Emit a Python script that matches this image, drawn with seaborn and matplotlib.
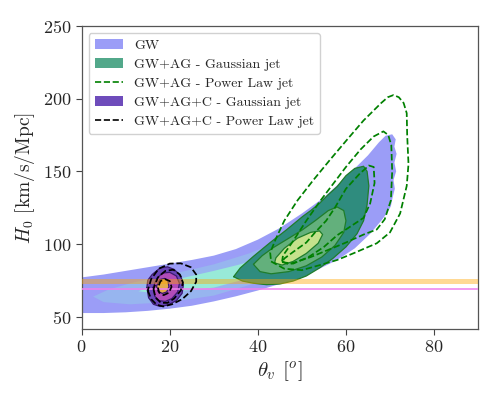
import numpy as np
import pandas as pd
import matplotlib
matplotlib.use("Agg")
import matplotlib.pyplot as plt
import seaborn as sns
from matplotlib.patches import Patch
from matplotlib.lines import Line2D

sns.set_theme(context="notebook", style="ticks")
plt.rcParams["font.family"] = ["cmr10", "DejaVu Serif"]
plt.rcParams["mathtext.fontset"] = "cm"
plt.rcParams["axes.formatter.use_mathtext"] = True

# contour outlines: (theta_v [deg], H0 [km/s/Mpc])
gw_outer = [(-3, 77), (0, 77), (5, 79), (10, 81.5), (15, 84), (20, 86.5), (25, 89),
            (30, 92), (35, 96.5), (40, 103), (45, 111), (50, 121), (55, 132),
            (60, 146), (65, 161), (67.5, 170), (69, 174.5), (70.5, 175.5),
            (71.3, 172), (71.0, 167), (71.5, 162), (71.0, 156), (71.4, 150),
            (70.8, 144), (71.1, 138), (70.6, 132), (70.2, 126), (69.5, 122),
            (68, 116), (65.5, 107), (62, 97), (58, 89), (54, 83), (50, 78),
            (45, 72.5), (40, 68), (35, 64), (30, 60.5), (25, 57.5), (20, 55.5),
            (15, 54), (10, 53), (5, 52.5), (0, 52.5), (-3, 52.5)]
gw_mid = [(2.6, 63.8), (6, 68.5), (11, 73), (20, 79), (30, 86), (38, 93.5),
          (45, 102), (52, 113), (57, 124), (61, 135), (63, 137), (64, 125),
          (62, 110), (58, 99), (53, 90), (47, 81), (40, 73.5), (30, 64.5),
          (20, 60), (11, 58.5), (5, 60)]
gw_inner = [(12.9, 67.5), (16, 71), (22, 76), (30, 81.5), (36, 86), (42, 92),
            (48, 100), (52, 106), (53, 103), (50, 94), (45, 85), (38, 76.5),
            (30, 70), (22, 67.5), (16, 66.3)]

ag_gauss_outer = [(34.5, 77.5), (36.5, 74.5), (39, 73), (42, 72), (45, 72.5),
                  (48, 74.5), (51, 78), (54, 83.5), (57, 90), (60, 98),
                  (62.5, 107), (64, 116), (64.8, 127), (65.2, 140), (64.8, 150),
                  (64, 153.5), (62, 152), (60, 147), (58, 139.5), (56, 134),
                  (54, 128), (52, 123), (50.2, 119), (46.6, 110), (42.8, 101),
                  (39, 91.5), (36, 83.5)]
ag_gauss_mid = [(39, 86), (40.5, 81), (43, 79.5), (47, 81), (51, 85), (54.5, 91),
                (57.5, 99), (59.5, 108), (60, 116), (59.5, 123), (58, 125.5),
                (56, 123), (53, 116), (50, 109.5), (46.5, 103), (43.5, 97.5),
                (41, 92)]
ag_gauss_inner = [(43.8, 87.0), (45.5, 85.5), (48, 88), (51, 93.5), (53.7, 100.5),
                  (54.7, 106.5), (54.0, 109), (52, 108), (49, 104), (46, 97),
                  (44.1, 90.5)]

ag_pl_outer = [(43, 88), (46, 83), (50, 82), (54.2, 85.6), (58, 89), (61.7, 93.6),
               (67, 100.5), (70, 108), (72.3, 121), (73.8, 140), (74.2, 155),
               (73.9, 175), (73.8, 190), (73.1, 197), (72, 201), (70.8, 202.5),
               (69.5, 201), (68, 197), (64, 185), (60.2, 171.6), (56.4, 158),
               (52.6, 144), (49, 130), (46, 116), (44, 103), (42.8, 94)]
ag_pl_mid = [(45.5, 88), (47, 86), (52, 91), (56, 96), (60, 101), (64, 106.5),
             (67, 110), (68.8, 117), (70.2, 130), (70.5, 150), (70.3, 168),
             (69.6, 175), (68.5, 177.5), (66.3, 174), (63.3, 165), (60, 153),
             (57, 141), (54, 129), (51, 116), (48, 102), (45.7, 92)]
ag_pl_inner = [(45.5, 87.5), (48, 86.5), (51.5, 91), (55, 98), (58, 106),
               (61, 112), (64, 118), (65.5, 128), (66.5, 142), (66.3, 153),
               (65.2, 154), (63, 148), (60, 138), (57.5, 125), (55.5, 116),
               (53, 108), (51, 101), (48, 94.5), (46, 90)]

agc_gauss_outer = [(14.8, 70), (15.2, 63), (16.3, 58.5), (17.8, 57), (19.5, 58),
                   (21.5, 61), (22.8, 66), (23.1, 72), (22.5, 78), (21, 82.5),
                   (19.5, 84.3), (17.8, 83.5), (16, 79), (15, 75)]
agc_gauss_mid = [(16.2, 70), (16.6, 64), (17.6, 61), (19, 60.5), (20.5, 62.5),
                 (21.8, 67), (22.2, 73), (21.5, 78), (20, 80.5), (18.3, 80),
                 (17, 76)]
agc_gauss_inner = [(17, 71), (17.3, 67.5), (18.3, 66), (19.3, 67), (19.8, 70.5),
                   (19.6, 74.5), (18.8, 76.3), (17.7, 75.5)]

agc_pl_outer = [(15, 68), (15.8, 62), (17, 58.3), (18.5, 57), (20.5, 58.5),
                (22.8, 62), (24.8, 67.5), (26, 74), (26, 79), (24.8, 84),
                (22.5, 86.7), (20, 86.5), (17.5, 83), (15.8, 76)]
agc_pl_mid = [(16.3, 69), (16.8, 63), (18, 59.5), (19.5, 59.5), (21, 62.5),
              (22.5, 68), (23, 73.5), (22.3, 79), (20.8, 82.3), (19, 81.5),
              (17.3, 77)]
agc_pl_inner = [(17.3, 70), (17.6, 66.5), (18.6, 64.8), (19.8, 66.5), (20.4, 70.5),
                (20, 74.5), (19, 75.8), (17.9, 74.5)]

shoes_band = (72.5, 76.2)
planck_band = (68.2, 69.4)


def closed(pts):
    df = pd.DataFrame(pts + [pts[0]], columns=["theta", "h0"])
    df["order"] = np.arange(len(df))
    return df


def fill_levels(ax, levels, colors, edge=None, z=1):
    for pts, c in zip(levels, colors):
        d = closed(pts)
        ax.fill(d.theta, d.h0, color=c, lw=0, zorder=z)
        if edge is not None:
            ax.plot(d.theta, d.h0, color=edge, lw=0.9, zorder=z)


def dashed_levels(ax, levels, color, z=5):
    for pts in levels:
        d = closed(pts)
        sns.lineplot(data=d, x="theta", y="h0", sort=False, estimator=None,
                     color=color, lw=1.25, ls="--", ax=ax, zorder=z)


fig = plt.figure(figsize=(4.98, 3.99), dpi=100)
ax = fig.add_axes([0.164, 0.1754, 0.796, 0.7594])

fill_levels(ax, [gw_outer, gw_mid, gw_inner], ["#9b9df7", "#97b5ef", "#98ead8"], z=1)
fill_levels(ax, [ag_gauss_outer, ag_gauss_mid, ag_gauss_inner],
            ["#2f8c7e", "#63b07c", "#c5e28c"], edge="#1f7d2a", z=2)
fill_levels(ax, [agc_gauss_outer, agc_gauss_mid, agc_gauss_inner],
            ["#6a46b8", "#b04cb8", "#e3ab4a"], edge="#3a1a70", z=2)

ax.axhspan(*shoes_band, color="orange", alpha=0.42, lw=0, zorder=3)
ax.axhspan(*planck_band, color="violet", alpha=0.8, lw=0, zorder=3)

dashed_levels(ax, [ag_pl_outer, ag_pl_mid, ag_pl_inner], "green")
dashed_levels(ax, [agc_pl_outer, agc_pl_mid, agc_pl_inner], "black")

ax.set_xlim(0, 90)
ax.set_ylim(41.5, 250)
ax.set_xticks([0, 20, 40, 60, 80])
ax.set_yticks([50, 100, 150, 200, 250])
ax.tick_params(labelsize=13, length=4, width=0.8, color="#444444")
for s in ax.spines.values():
    s.set_color("#555555")
    s.set_linewidth(0.9)
ax.set_xlabel(r"$\theta_v$ [$^o$]", fontsize=15, labelpad=3)
ax.set_ylabel(r"$H_0$ [km/s/Mpc]", fontsize=14, labelpad=4)

handles = [
    Patch(color="#9b9df7", lw=0),
    Patch(color="#52a88a", lw=0),
    Line2D([], [], color="green", ls="--", lw=1.2),
    Patch(color="#6e4cbb", lw=0),
    Line2D([], [], color="black", ls="--", lw=1.2),
]
labels = ["GW", "GW+AG - Gaussian jet", "GW+AG - Power Law jet",
          "GW+AG+C - Gaussian jet", "GW+AG+C - Power Law jet"]
ax.legend(handles, labels, loc="upper left", fontsize=10, frameon=True,
          handlelength=2.0, labelspacing=0.45, borderpad=0.45,
          handletextpad=0.8, framealpha=0.9, edgecolor="#cccccc")

fig.savefig("out.png", dpi=100)
